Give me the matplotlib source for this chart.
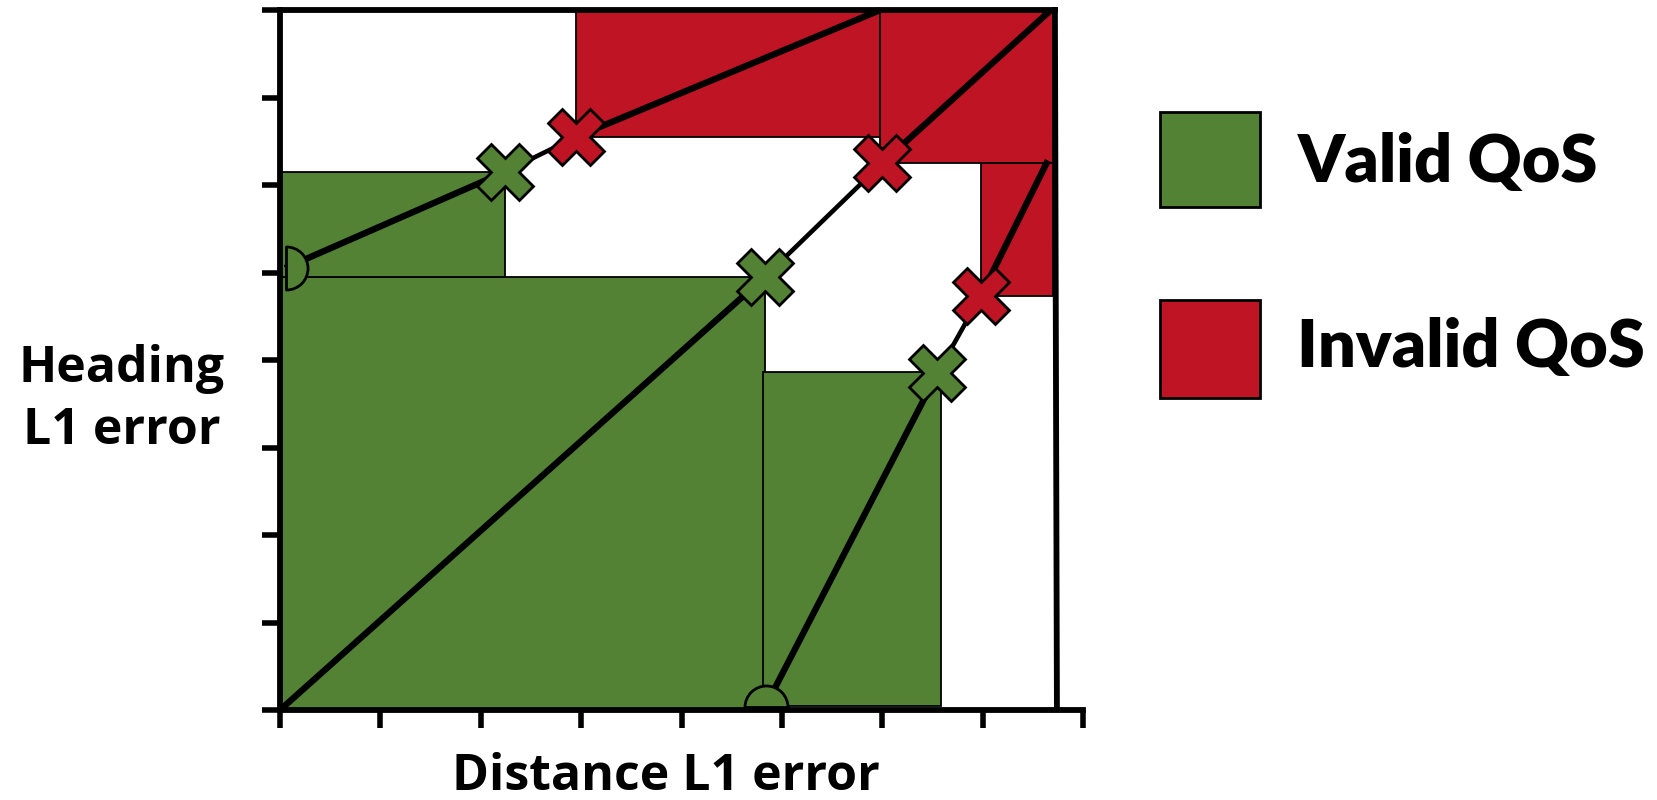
import matplotlib.pyplot as plt
import matplotlib.patches as mpatches
from matplotlib.path import Path

green = '#538235'
red = '#BE1424'

# rectangles: (x0, y0, x1, y1)
valid_rects = [(0.0, 0.0, 4.83, 4.95), (0.0, 4.95, 2.24, 6.15), (4.81, 0.05, 6.59, 3.86)]
invalid_rects = [(2.95, 6.55, 5.98, 8.0), (5.98, 6.25, 7.70, 8.0), (6.98, 4.73, 7.70, 6.25)]

# three search paths: start, valid point, invalid point, end
path_x = [[0.05, 2.24, 2.95, 5.98], [0.0, 4.83, 6.0, 7.68], [4.84, 6.55, 6.98, 7.65]]
path_y = [[5.05, 6.15, 6.55, 8.0], [0.0, 4.95, 6.25, 8.0], [0.05, 3.85, 4.73, 6.28]]

# start points (semicircles)
start_x = [0.06, 4.84]
start_y = [5.05, 0.04]

right_x = 7.72
xticks = [0, 1, 2, 3, 4, 5, 6, 7, 8]
yticks = [0, 1, 2, 3, 4, 5, 6, 7, 8]

fig = plt.figure(figsize=(16.57, 8), dpi=100)
ax = fig.add_axes([0.1690, 0.1125, 0.4846, 0.875])
ax.set_xlim(0, 8)
ax.set_ylim(0, 8)

for x0, y0, x1, y1 in valid_rects:
    ax.add_patch(mpatches.Rectangle((x0, y0), x1 - x0, y1 - y0, facecolor=green,
                                    edgecolor='black', lw=1.3, zorder=1))
for x0, y0, x1, y1 in invalid_rects:
    ax.add_patch(mpatches.Rectangle((x0, y0), x1 - x0, y1 - y0, facecolor=red,
                                    edgecolor='black', lw=1.3, zorder=1))

for px, py in zip(path_x, path_y):
    ax.plot(px[:2], py[:2], color='black', lw=4.6, zorder=3, clip_on=False, solid_capstyle='butt')
    ax.plot(px[1:3], py[1:3], color='black', lw=3.3, zorder=3, clip_on=False)
    ax.plot(px[2:], py[2:], color='black', lw=4.6, zorder=3, clip_on=False, solid_capstyle='butt')
    ax.plot(px[1], py[1], marker='X', ms=41, mfc=green, mec='black', mew=2.0, zorder=5, clip_on=False)
    ax.plot(px[2], py[2], marker='X', ms=41, mfc=red, mec='black', mew=2.0, zorder=5, clip_on=False)

# semicircle start markers
ax.plot(start_x[0], start_y[0], marker=Path.wedge(-90, 90), ms=31, mfc=green, mec='black',
        mew=2.0, zorder=4, clip_on=False)
ax.plot(start_x[1], start_y[1], marker=Path.wedge(0, 180), ms=31, mfc=green, mec='black',
        mew=2.0, zorder=4, clip_on=False)

# top and right border
ax.plot([0, right_x], [8, 8], color='black', lw=4.2, zorder=6, clip_on=False)
ax.plot([right_x, right_x + 0.02], [8, 0.05], color='black', lw=4.2, zorder=6, clip_on=False)

ax.spines['top'].set_visible(False)
ax.spines['right'].set_visible(False)
for s in ['left', 'bottom']:
    ax.spines[s].set_linewidth(4.2)
    ax.spines[s].set_zorder(7)
ax.set_xticks(xticks)
ax.set_yticks(yticks)
ax.tick_params(axis='both', direction='out', length=13, width=4.0, labelbottom=False, labelleft=False)

# legend
fig.patches.append(mpatches.Rectangle((0.700, 0.741), 0.0604, 0.119, transform=fig.transFigure,
                                      facecolor=green, edgecolor='black', lw=2))
fig.patches.append(mpatches.Rectangle((0.700, 0.5025), 0.0604, 0.1225, transform=fig.transFigure,
                                      facecolor=red, edgecolor='black', lw=2))
fig.text(0.783, 0.797, 'Valid QoS', fontsize=48, fontweight='heavy', family='Lato', va='center', ha='left')
fig.text(0.783, 0.566, 'Invalid QoS', fontsize=48, fontweight='heavy', family='Lato', va='center', ha='left')

fig.text(0.0733, 0.50, 'Heading\nL1 error', fontsize=36, fontweight='bold', family='Open Sans',
         ha='center', va='center', linespacing=1.3)
fig.text(0.402, 0.029, 'Distance L1 error', fontsize=36, fontweight='bold', family='Open Sans',
         ha='center', va='center')

fig.savefig('out.png', dpi=100)
